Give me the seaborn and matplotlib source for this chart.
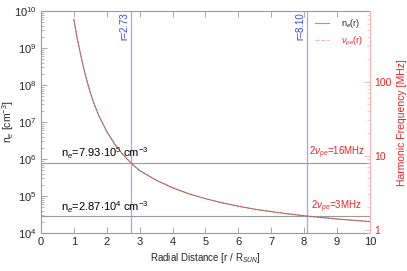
import numpy as np
import pandas as pd
import seaborn as sns
import matplotlib
matplotlib.use("Agg")
import matplotlib.pyplot as plt
from matplotlib.ticker import LogLocator, FixedLocator, NullFormatter

# radial distance [R_sun] and electron density n_e [cm^-3]
r_sun = [1.0, 1.1, 1.2, 1.3, 1.4, 1.5, 1.6, 1.75, 2.0, 2.25, 2.5, 2.73,
         3.0, 3.5, 4.0, 4.5, 5.0, 5.5, 6.0, 6.5, 7.0, 7.5, 8.1, 9.0, 10.0]
log_ne = [9.78, 9.27, 8.845, 8.45, 8.105, 7.795, 7.53, 7.19, 6.745, 6.395, 6.115, 5.90,
          5.69, 5.43, 5.225, 5.06, 4.93, 4.82, 4.725, 4.645, 4.58, 4.52, 4.458, 4.38, 4.31]
n_e = [10 ** v for v in log_ne]

# marked crossings
r_marks = [2.73, 8.10]
ne_marks = [7.93e5, 2.87e4]
ne_texts = [r"n$_e$=7.93$\cdot$10$^5$ cm$^{-3}$", r"n$_e$=2.87$\cdot$10$^4$ cm$^{-3}$"]
f_texts = [r"2$\nu_{pe}$=16MHz", r"2$\nu_{pe}$=3MHz"]

# plasma frequency in MHz: 8.98 kHz * sqrt(n_e)
FP = 8.98e-3
nu_pe = [FP * np.sqrt(v) for v in n_e]

df = pd.DataFrame({"r": r_sun, "ne": n_e, "nu": nu_pe})

sns.set_theme(style="ticks")
plt.rcParams["font.family"] = ["Liberation Sans", "DejaVu Sans"]
plt.rcParams["mathtext.fontset"] = "custom"
plt.rcParams["mathtext.rm"] = "Liberation Sans"
plt.rcParams["mathtext.it"] = "Liberation Sans:italic"

GRAY = "#9a9a9a"
RED = "#ee2222"
BLUE = "#3344ff"
LBLUE = "#a4a4ff"
PINK = "#ffb0b0"

fig = plt.figure(figsize=(4.07, 2.71), dpi=100)
ax = fig.add_axes([0.1007, 0.140, 0.808, 0.819])
ax2 = ax.twinx()

sns.lineplot(data=df, x="r", y="ne", ax=ax, color=GRAY, lw=0.9, legend=False)
sns.lineplot(data=df, x="r", y="nu", ax=ax2, color="#e04040", lw=0.5, dashes=(2, 2),
             linestyle="--", legend=False)
ax2.set_xlabel("")

ylo, yhi = 1e4, 1e10
ax.set_yscale("log")
ax.set_ylim(ylo, yhi)
ax.set_xlim(0, 10)
ax2.set_yscale("log")
ax2.set_ylim(FP * np.sqrt(ylo), FP * np.sqrt(yhi))

for rm in r_marks:
    ax.axvline(rm, color=LBLUE, lw=0.9, zorder=1)
    ax.text(rm - 0.05, 9.5e9, f"r={rm:.2f}", rotation=90, color=BLUE,
            fontsize=7, ha="right", va="top")

for nm, t in zip(ne_marks, ne_texts):
    ax.axhline(nm, color=GRAY, lw=0.8, zorder=1)
    ax.text(0.6, nm * 1.1, t, fontsize=8, color="black", ha="left", va="bottom")

ax.text(9.85, ne_marks[0] * 1.1, f_texts[0], fontsize=7, color=RED, ha="right", va="bottom")
ax.text(9.75, ne_marks[1] * 1.1, f_texts[1], fontsize=7, color=RED, ha="right", va="bottom")

# legend
h1 = plt.Line2D([], [], color=GRAY, lw=0.8)
h2 = plt.Line2D([], [], color=PINK, lw=0.8, ls="--")
leg = ax.legend([h1, h2], [r"n$_e$(r)", r"$\nu_{pe}$(r)"], loc="upper right",
                frameon=False, fontsize=6.5, handlelength=1.5, handletextpad=1.4,
                borderaxespad=0.3, labelspacing=0.5)
leg.get_texts()[1].set_color(RED)

ax.set_xlabel(r"Radial Distance [r / R$_{SUN}$]", fontsize=7, labelpad=3)
ax.set_ylabel(r"n$_e$ [cm$^{-3}$]", fontsize=7.5)
ax.yaxis.set_label_coords(-0.076, 0.5)
ax2.set_ylabel("Harmonic Frequency [MHz]", fontsize=7.5, color=RED, labelpad=4)

ax.set_xticks(range(0, 11))
ax.yaxis.set_major_locator(LogLocator(base=10, numticks=10))
ax.yaxis.set_minor_locator(LogLocator(base=10, subs=np.arange(2, 10), numticks=20))
ax.yaxis.set_minor_formatter(NullFormatter())
ax2.yaxis.set_major_locator(FixedLocator([1, 10, 100]))
ax2.set_yticklabels(["1", "10", "100"])
ax2.yaxis.set_minor_locator(LogLocator(base=10, subs=np.arange(2, 10), numticks=20))
ax2.yaxis.set_minor_formatter(NullFormatter())

ax.tick_params(axis="both", which="major", direction="in", length=4, width=0.6,
               color=GRAY, labelsize=8, pad=3, top=True)
ax.tick_params(axis="y", which="minor", direction="in", length=2, width=0.5, color=GRAY)
ax.tick_params(axis="x", which="minor", bottom=False, top=False)
ax2.tick_params(axis="y", which="major", direction="in", length=4, width=0.6,
                color=PINK, labelcolor=RED, labelsize=7.5, pad=3)
ax2.tick_params(axis="y", which="minor", direction="in", length=2, width=0.5, color=PINK)

for s in ["left", "top", "bottom"]:
    ax.spines[s].set_color(GRAY)
    ax.spines[s].set_linewidth(0.8)
ax.spines["right"].set_visible(False)
for s in ["left", "top", "bottom"]:
    ax2.spines[s].set_visible(False)
ax2.spines["right"].set_color(PINK)
ax2.spines["right"].set_linewidth(0.8)

fig.savefig("out.png", dpi=100)
